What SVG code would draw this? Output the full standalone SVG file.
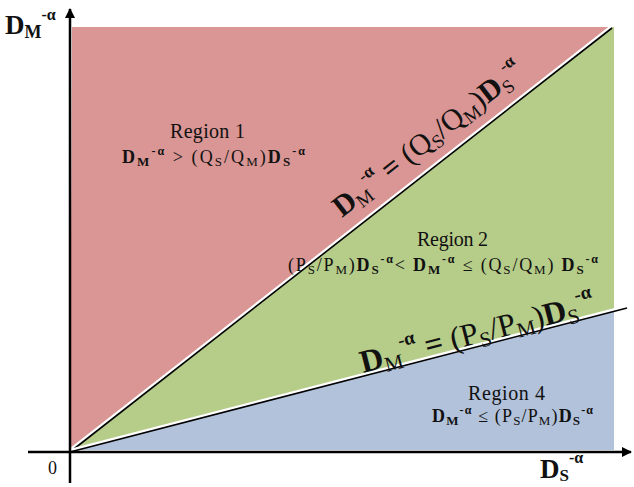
<svg xmlns="http://www.w3.org/2000/svg" width="634" height="487" viewBox="0 0 634 487">
<style>
text{font-family:"Liberation Serif","Times New Roman",serif;fill:#111}
.b{font-weight:bold}
.n{font-weight:normal}
.reg{font-size:20px}
.ax{stroke:#000;stroke-width:2.5;fill:none}
.wl{stroke:#fff;stroke-width:3;fill:none}
.bl{stroke:#000;stroke-width:1.6;fill:none}
</style>
<defs>
<marker id="ah" viewBox="0 0 10 10" refX="9" refY="5" markerWidth="4" markerHeight="4" orient="auto" markerUnits="strokeWidth">
<path d="M0,0 L10,5 L0,10 z" fill="#000"/>
</marker>
</defs>
<g id="regions">
<polygon id="region1" points="72,27 613,27 70,452" fill="#D99694"/>
<polygon id="region2" points="613,27 614,27 614,311 70,452" fill="#B6CC89"/>
<polygon id="region4" points="614,311 614,450 70,450" fill="#B2C2DA"/>
</g>
<g id="connectors">
<line class="wl" x1="69.1" y1="450.8" x2="611.1" y2="26.8"/>
<line class="bl" x1="70" y1="452" x2="612" y2="28"/>
<line class="wl" x1="69.6" y1="450.5" x2="626.6" y2="306.5"/>
<line class="bl" x1="70" y1="452" x2="627" y2="308"/>
<line class="ax" x1="70" y1="483" x2="70" y2="9" marker-end="url(#ah)"/>
<line class="ax" x1="28" y1="452" x2="631" y2="452" marker-end="url(#ah)"/>
</g>
<g id="axis-labels">
<text x="5" y="34" class="b" font-size="27">D<tspan y="38" font-size="18">M</tspan><tspan y="20" font-size="16">-α</tspan></text>
<text x="48" y="474" font-size="18">0</text>
<text x="540" y="478" class="b" font-size="27">D<tspan y="481" font-size="17">S</tspan><tspan y="463" font-size="16">-α</tspan></text>
</g>
<g id="region1-label">
<text x="170" y="138" class="reg" textLength="75" lengthAdjust="spacing">Region 1</text>
<text x="122" y="163" font-size="18" textLength="183" lengthAdjust="spacing"><tspan class="b">D</tspan><tspan class="b" y="166" font-size="13">M</tspan><tspan class="b" y="155" font-size="12">-α</tspan><tspan y="163"> &gt; (Q</tspan><tspan y="166" font-size="13">S</tspan><tspan y="163">/Q</tspan><tspan y="166" font-size="13">M</tspan><tspan y="163">)</tspan><tspan class="b" y="163">D</tspan><tspan class="b" y="166" font-size="13">S</tspan><tspan class="b" y="155" font-size="12">-α</tspan></text>
</g>
<g id="region2-label">
<text x="417" y="246" class="reg" textLength="71" lengthAdjust="spacing">Region 2</text>
<text x="288" y="271" font-size="18" textLength="310" lengthAdjust="spacing"><tspan>(P</tspan><tspan y="274" font-size="13">S</tspan><tspan y="271">/P</tspan><tspan y="274" font-size="13">M</tspan><tspan y="271">)</tspan><tspan class="b" y="271">D</tspan><tspan class="b" y="274" font-size="13">S</tspan><tspan class="b" y="263" font-size="12">-α</tspan><tspan y="271">&lt; </tspan><tspan class="b" y="271">D</tspan><tspan class="b" y="274" font-size="13">M</tspan><tspan class="b" y="263" font-size="12">-α</tspan><tspan y="271">  ≤ (Q</tspan><tspan y="274" font-size="13">S</tspan><tspan y="271">/Q</tspan><tspan y="274" font-size="13">M</tspan><tspan y="271">) </tspan><tspan class="b" y="271">D</tspan><tspan class="b" y="274" font-size="13">S</tspan><tspan class="b" y="263" font-size="12">-α</tspan></text>
</g>
<g id="region4-label">
<text x="468" y="400" class="reg" textLength="77" lengthAdjust="spacing">Region 4</text>
<text x="432" y="422" font-size="18" textLength="161" lengthAdjust="spacing"><tspan class="b">D</tspan><tspan class="b" y="425" font-size="13">M</tspan><tspan class="b" y="414" font-size="12">-α</tspan><tspan y="422"> ≤  (P</tspan><tspan y="425" font-size="13">S</tspan><tspan y="422">/P</tspan><tspan y="425" font-size="13">M</tspan><tspan y="422">)</tspan><tspan class="b" y="422">D</tspan><tspan class="b" y="425" font-size="13">S</tspan><tspan class="b" y="414" font-size="12">-α</tspan></text>
</g>
<g id="line1-label" transform="translate(342,218) rotate(-38)">
<text x="0" y="0" font-size="30"><tspan class="b">D</tspan><tspan class="n" y="5" font-size="19">M</tspan><tspan class="b" y="-15" font-size="17">-α</tspan><tspan class="b" y="0"> = </tspan><tspan y="0">(Q</tspan><tspan y="5" font-size="19">S</tspan><tspan y="0">/Q</tspan><tspan y="5" font-size="19">M</tspan><tspan y="0">)</tspan><tspan class="b" y="0">D</tspan><tspan class="n" y="5" font-size="19">S</tspan><tspan class="b" y="-15" font-size="17">-α</tspan></text>
</g>
<g id="line2-label" transform="translate(363,373) rotate(-14.5)">
<text x="0" y="0" font-size="32"><tspan class="b">D</tspan><tspan class="n" y="5" font-size="21">M</tspan><tspan class="b" y="-16" font-size="19">-α</tspan><tspan class="b" y="0"> = </tspan><tspan y="0">(P</tspan><tspan y="5" font-size="21">S</tspan><tspan y="0">/P</tspan><tspan y="5" font-size="21">M</tspan><tspan y="0">)</tspan><tspan class="b" y="0">D</tspan><tspan class="n" y="5" font-size="21">S</tspan><tspan class="b" y="-16" font-size="19">-α</tspan></text>
</g>
</svg>
